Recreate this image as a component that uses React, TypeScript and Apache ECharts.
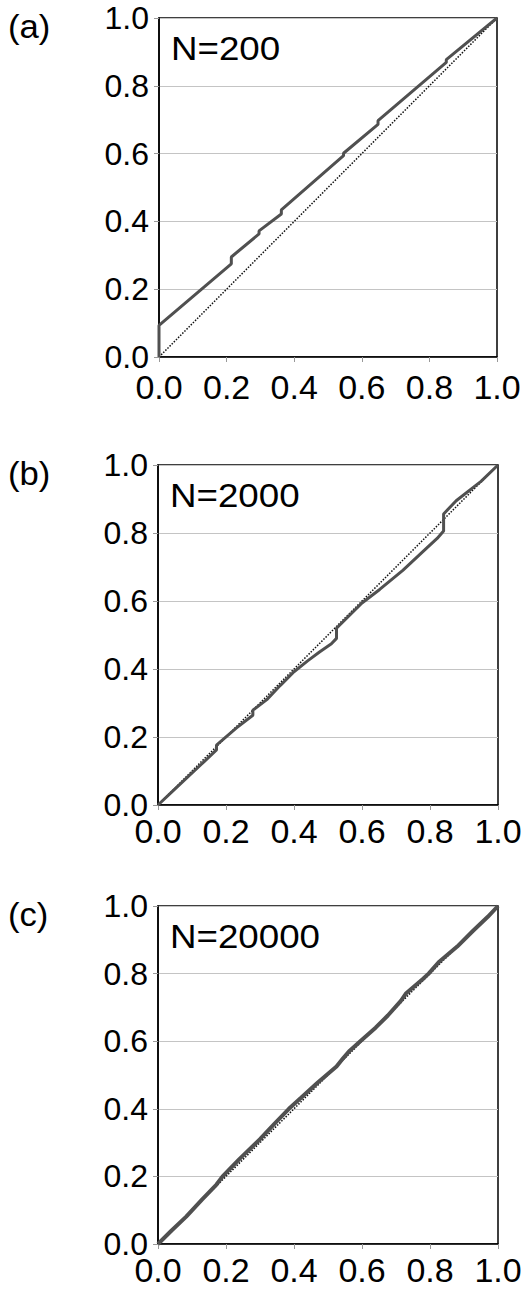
import React, { useEffect, useRef } from "react";
import * as echarts from "echarts";

const tickValues = [0, 0.2, 0.4, 0.6, 0.8, 1.0];
const panelLabels = ["(a)", "(b)", "(c)"];
const sampleLabels = ["N=200", "N=2000", "N=20000"];

const diagonal = [
  [0, 0],
  [1, 1],
];

const seriesA = [
  [0, 0], [0, 0.093], [0.214, 0.275], [0.214, 0.295], [0.296, 0.363], [0.296, 0.372],
  [0.362, 0.422], [0.362, 0.434], [0.546, 0.594], [0.546, 0.601], [0.648, 0.686],
  [0.648, 0.697], [0.85, 0.869], [0.85, 0.877], [1, 1],
];

const seriesB = [
  [0, 0], [0.04, 0.038], [0.09, 0.085], [0.13, 0.122], [0.172, 0.162], [0.172, 0.176],
  [0.23, 0.226], [0.279, 0.264], [0.279, 0.279], [0.32, 0.31], [0.36, 0.352],
  [0.4, 0.392], [0.44, 0.424], [0.475, 0.45], [0.51, 0.474], [0.525, 0.49],
  [0.525, 0.52], [0.6, 0.594], [0.652, 0.634], [0.72, 0.69], [0.779, 0.745],
  [0.821, 0.784], [0.84, 0.806], [0.84, 0.856], [0.877, 0.895], [0.95, 0.952], [1, 1],
];

const seriesC = [
  [0, 0], [0.04, 0.04], [0.083, 0.081], [0.13, 0.132], [0.172, 0.176], [0.19, 0.2],
  [0.24, 0.252], [0.3, 0.31], [0.343, 0.356], [0.385, 0.4], [0.42, 0.432],
  [0.47, 0.478], [0.525, 0.525], [0.545, 0.55], [0.564, 0.572], [0.595, 0.6],
  [0.64, 0.64], [0.676, 0.676], [0.715, 0.72], [0.73, 0.742], [0.779, 0.784],
  [0.796, 0.8], [0.828, 0.836], [0.88, 0.88], [0.926, 0.926], [0.97, 0.968], [1, 1],
];

const allSeries = [seriesA, seriesB, seriesC];

const FONT = "'Liberation Sans', Arial, sans-serif";

const grids = [
  { left: 159, top: 18, width: 338, height: 339, xMargin: 16 },
  { left: 158, top: 465, width: 340, height: 340, xMargin: 12 },
  { left: 158, top: 906, width: 340, height: 338, xMargin: 12 },
];

export default function App() {
  const ref = useRef<HTMLDivElement>(null);

  useEffect(() => {
    if (!ref.current) return;
    const chart = echarts.init(ref.current, null, { renderer: "svg" });

    const fmt = (v: number) => v.toFixed(1);

    const option: any = {
      animation: false,
      backgroundColor: "#ffffff",
      grid: grids.map((g) => ({
        left: g.left,
        top: g.top,
        width: g.width,
        height: g.height,
        show: true,
        borderColor: "#000000",
        borderWidth: 1.5,
        backgroundColor: "transparent",
        containLabel: false,
      })),
      xAxis: grids.map((g, i) => ({
        type: "value",
        gridIndex: i,
        min: tickValues[0],
        max: tickValues[tickValues.length - 1],
        interval: 0.2,
        axisLine: { show: true, lineStyle: { color: "#000", width: 1.5 } },
        axisTick: { show: true, length: 5, lineStyle: { color: "#999", width: 1 } },
        splitLine: { show: false },
        axisLabel: {
          formatter: fmt,
          fontSize: 34,
          lineHeight: 28,
          fontFamily: FONT,
          color: "#000",
          margin: g.xMargin,
          showMinLabel: true,
          showMaxLabel: true,
        },
      })),
      yAxis: grids.map((g, i) => ({
        type: "value",
        gridIndex: i,
        min: tickValues[0],
        max: tickValues[tickValues.length - 1],
        interval: 0.2,
        axisLine: { show: true, lineStyle: { color: "#000", width: 1.5 } },
        axisTick: { show: true, length: 5, lineStyle: { color: "#999", width: 1 } },
        splitLine: { show: true, lineStyle: { color: "#c4c4c4", width: 1 } },
        axisLabel: {
          formatter: fmt,
          fontSize: 32,
          lineHeight: 24,
          fontFamily: FONT,
          color: "#000",
          margin: 10,
          showMinLabel: true,
          showMaxLabel: true,
        },
      })),
      series: [] as any[],
      graphic: [] as any[],
    };

    allSeries.forEach((data, i) => {
      option.series.push({
        type: "line",
        xAxisIndex: i,
        yAxisIndex: i,
        data: diagonal,
        showSymbol: false,
        symbol: "none",
        silent: true,
        lineStyle: { color: "#111", width: 1.5, type: [1.5, 1.5] },
        z: 2,
      });
      option.series.push({
        type: "line",
        xAxisIndex: i,
        yAxisIndex: i,
        data,
        showSymbol: false,
        symbol: "none",
        silent: true,
        lineStyle: { color: "#505050", width: i === 2 ? 4 : 3 },
        z: 3,
      });
    });

    grids.forEach((g, i) => {
      option.graphic.push({
        type: "text",
        x: 8,
        y: g.top + 8,
        scaleX: 1.05,
        style: {
          text: panelLabels[i],
          font: `33px ${FONT}`,
          fill: "#000",
          textVerticalAlign: "middle",
        },
      });
      option.graphic.push({
        type: "text",
        x: g.left + 12,
        y: g.top + 30,
        scaleX: 1.08,
        z: 10,
        style: {
          text: sampleLabels[i],
          font: `34px ${FONT}`,
          fill: "#000",
          textVerticalAlign: "middle",
        },
      });
    });

    chart.setOption(option);
    return () => chart.dispose();
  }, []);

  return (
    <div
      ref={ref}
      style={{ position: "absolute", left: 0, top: 0, width: 525, height: 1291, background: "#fff" }}
    />
  );
}
